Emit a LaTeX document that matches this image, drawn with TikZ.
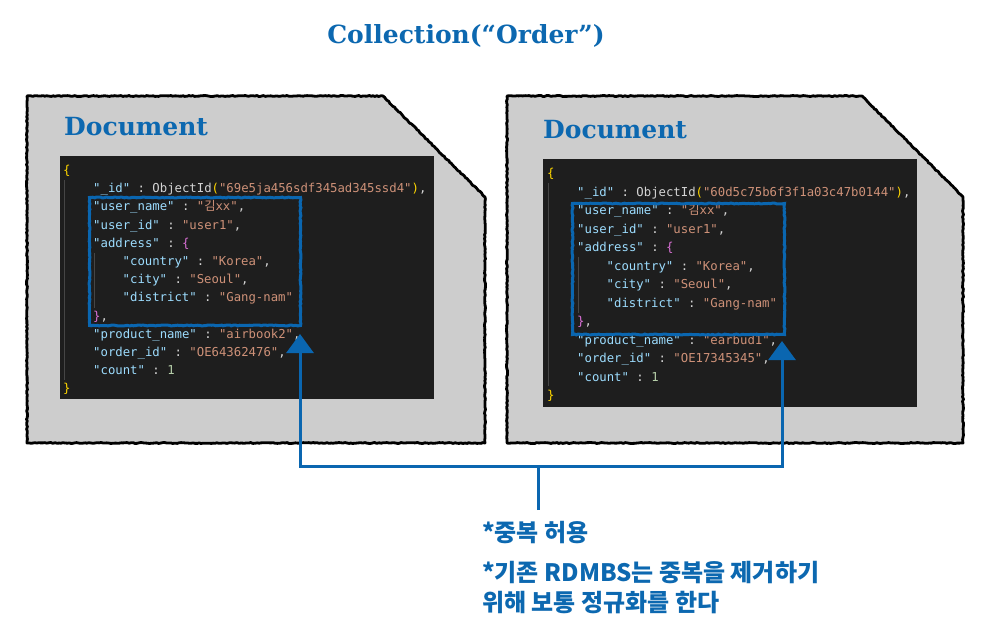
\documentclass[tikz,border=0pt]{standalone}
\usepackage{fontspec}
\setmainfont{DejaVu Serif}
\setmonofont{DejaVu Sans Mono}
\newfontfamily\kr{Noto Sans CJK KR}
\usetikzlibrary{decorations.pathmorphing,arrows.meta,calc}
\definecolor{docblue}{RGB}{12,104,176}
\definecolor{hlblue}{RGB}{10,102,176}
\definecolor{docgray}{RGB}{205,205,205}
\definecolor{cbg}{RGB}{30,30,30}
\definecolor{ckey}{RGB}{156,220,254}
\definecolor{cstr}{RGB}{206,145,120}
\definecolor{cpun}{RGB}{212,212,212}
\definecolor{cyel}{RGB}{255,215,0}
\definecolor{cpur}{RGB}{218,112,214}
\definecolor{cnum}{RGB}{181,206,168}
\definecolor{cguide}{RGB}{70,70,70}
\newcommand\Kq[1]{\textcolor{ckey}{"#1"}}
\newcommand\Sq[1]{\textcolor{cstr}{"#1"}}
\newcommand\cc{\textcolor{cpun}{\ :\ }}
\newcommand\cm{\textcolor{cpun}{,}}
\newcommand\codeline[4]{\node[codeln] (#1) at (#2,{\codey+#3*\codestep}) {#4};}
\begin{document}
\begin{tikzpicture}[x=1pt,y=-1pt,
  docshape/.style={fill=docgray,draw=black,line width=2.8pt,line join=round,
    decorate,decoration={random steps,segment length=2pt,amplitude=0.5pt}},
  panel/.style={fill=cbg,draw=none},
  hlbox/.style={draw=hlblue,line width=3pt,
    decorate,decoration={random steps,segment length=2pt,amplitude=0.45pt}},
  conn/.style={draw=hlblue,line width=3pt},
  arr/.style={conn,-{Triangle[length=19pt,width=27pt]}},
  doctitle/.style={text=docblue,font=\bfseries\fontsize{25}{30}\selectfont,inner sep=0pt,anchor=base west},
  codeln/.style={text=cpun,font=\ttfamily\fontsize{12.3}{14}\selectfont,inner sep=0pt,anchor=base west},
  note/.style={text=docblue,font=\kr\bfseries\fontsize{24}{28}\selectfont,inner sep=0pt,anchor=base west},
  guide/.style={draw=cguide,line width=0.6pt}]
\useasboundingbox (0,0) rectangle (991,627);

% title
\node[text=docblue,font=\bfseries\fontsize{25}{30}\selectfont,inner sep=0pt,anchor=base] (coll) at (466,43) {Collection(“Order”)};

% documents
\path[docshape] (27,96) -- (383,96) -- (485,197) -- (485,443) -- (27,443) -- cycle;
\path[docshape] (507,96) -- (862,96) -- (963,197) -- (963,443) -- (507,443) -- cycle;
\node[doctitle] (docL) at (64,135) {Document};
\node[doctitle] (docR) at (543,138) {Document};

% code panels
\fill[panel] (60,156) rectangle (434,399);
\fill[panel] (543,159) rectangle (917,407);
\draw[guide] (64,180) -- (64,380);
\draw[guide] (94,253) -- (94,308);
\draw[guide] (548,183) -- (548,386);
\draw[guide] (578,257) -- (578,313);

% left code
\def\codey{174.5}\def\codestep{18.2}
\codeline{L1}{63}{0}{\textcolor{cyel}{\{}}
\codeline{L2}{93}{1}{\Kq{\_id}\cc\textcolor{cpun}{ObjectId}\textcolor{cyel}{(}\Sq{69e5ja456sdf345ad345ssd4}\textcolor{cyel}{)}\cm}
\codeline{L3}{93}{2}{\Kq{user\_name}\cc\Sq{{\kr 김}xx}\cm}
\codeline{L4}{93}{3}{\Kq{user\_id}\cc\Sq{user1}\cm}
\codeline{L5}{93}{4}{\Kq{address}\cc\textcolor{cpur}{\{}}
\codeline{L6}{122.5}{5}{\Kq{country}\cc\Sq{Korea}\cm}
\codeline{L7}{122.5}{6}{\Kq{city}\cc\Sq{Seoul}\cm}
\codeline{L8}{122.5}{7}{\Kq{district}\cc\Sq{Gang-nam}}
\codeline{L9}{93}{8}{\textcolor{cpur}{\}}\cm}
\codeline{L10}{93}{9}{\Kq{product\_name}\cc\Sq{airbook2}\cm}
\codeline{L11}{93}{10}{\Kq{order\_id}\cc\Sq{OE64362476}\cm}
\codeline{L12}{93}{11}{\Kq{count}\cc\textcolor{cnum}{1}}
\codeline{L13}{63}{12}{\textcolor{cyel}{\}}}

% right code
\def\codey{177.5}\def\codestep{18.5}
\codeline{R1}{547}{0}{\textcolor{cyel}{\{}}
\codeline{R2}{577}{1}{\Kq{\_id}\cc\textcolor{cpun}{ObjectId}\textcolor{cyel}{(}\Sq{60d5c75b6f3f1a03c47b0144}\textcolor{cyel}{)}\cm}
\codeline{R3}{577}{2}{\Kq{user\_name}\cc\Sq{{\kr 김}xx}\cm}
\codeline{R4}{577}{3}{\Kq{user\_id}\cc\Sq{user1}\cm}
\codeline{R5}{577}{4}{\Kq{address}\cc\textcolor{cpur}{\{}}
\codeline{R6}{606.5}{5}{\Kq{country}\cc\Sq{Korea}\cm}
\codeline{R7}{606.5}{6}{\Kq{city}\cc\Sq{Seoul}\cm}
\codeline{R8}{606.5}{7}{\Kq{district}\cc\Sq{Gang-nam}}
\codeline{R9}{577}{8}{\textcolor{cpur}{\}}\cm}
\codeline{R10}{577}{9}{\Kq{product\_name}\cc\Sq{earbud1}\cm}
\codeline{R11}{577}{10}{\Kq{order\_id}\cc\Sq{OE17345345}\cm}
\codeline{R12}{577}{11}{\Kq{count}\cc\textcolor{cnum}{1}}
\codeline{R13}{547}{12}{\textcolor{cyel}{\}}}

% highlight boxes
\node[hlbox,inner sep=0pt,minimum width=211pt,minimum height=128pt,anchor=north west] (hlL) at (88,196) {};
\node[hlbox,inner sep=0pt,minimum width=212pt,minimum height=131pt,anchor=north west] (hlR) at (571,202) {};

% connectors
\coordinate (stem) at (538,510);
\coordinate (junc) at (538,466);
\coordinate (tipL) at ($(hlL.south east)+(-2,7)$);
\coordinate (tipR) at ($(hlR.south east)+(-4,5)$);
\draw[conn] (stem) -- (junc);
\draw[arr] (junc) -| (tipL);
\draw[arr] (junc) -| (tipR);

% notes
\node[note] (n1) at (482,541) {*중복 허용};
\node[note] (n2) at (482,581) {*기존 RDMBS는 중복을 제거하기};
\node[note] (n3) at (482,611) {위해 보통 정규화를 한다};
\end{tikzpicture}
\end{document}
